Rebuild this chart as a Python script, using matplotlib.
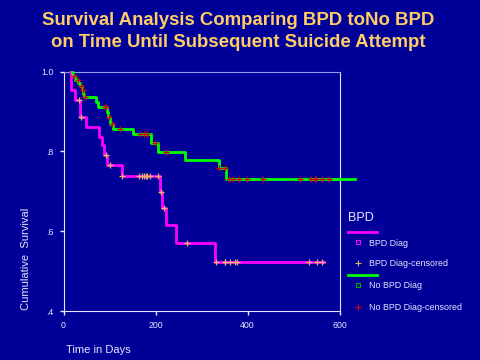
import numpy as np
import matplotlib
matplotlib.use('Agg')
import matplotlib.pyplot as plt
from matplotlib.lines import Line2D

plt.rcParams['font.family'] = ['Liberation Sans', 'DejaVu Sans']

# Kaplan-Meier step data (days, cumulative survival)
bpd_time = [15, 16, 25, 36, 49, 78, 83, 88, 94, 127, 210, 214, 222, 245, 330, 567]
bpd_surv = [1.0, .955, .930, .886, .861, .836, .816, .791, .766, .739, .699, .659, .615, .570, .523, .523]
bpd_cens = [34, 38, 93, 101, 128, 165, 171, 176, 180, 182, 187, 205, 213, 218,
            268, 331, 350, 352, 362, 372, 377, 533, 551, 561]

nobpd_time = [18, 21, 24, 32, 35, 40, 43, 45, 70, 75, 94, 97, 101, 108, 152, 191, 205, 265, 338, 354, 633]
nobpd_surv = [1.0, .988, .980, .972, .964, .954, .945, .937, .925, .912, .899, .887, .870, .857,
              .843, .820, .799, .779, .758, .731, .731]
nobpd_cens = [23, 31, 39, 42, 46, 90, 93, 99, 106, 123, 166, 174, 181, 199, 223, 339, 352,
              359, 368, 381, 399, 433, 515, 537, 546, 549, 562, 577]

x_ticks = [0, 200, 400, 600]
y_ticks = [0.4, 0.6, 0.8, 1.0]
y_labels = ['.4', '.6', '.8', '1.0']

bg = '#000099'
fg = '#E6E6FF'
magenta = '#FF00FF'
green = '#00FF00'


def surv_at(times, surv, t):
    # value of the step function just after time t
    i = np.searchsorted(times, t, side='right') - 1
    return surv[max(i, 0)]


fig = plt.figure(figsize=(4.8, 3.6), dpi=100, facecolor=bg)
ax = fig.add_axes([0.1323, 0.136, 0.575, 0.665], facecolor=bg)

ax.step(bpd_time, bpd_surv, where='post', color=magenta, lw=2.0, clip_on=False, zorder=3)
ax.step(nobpd_time, nobpd_surv, where='post', color=green, lw=2.0, clip_on=False, zorder=3)

ax.plot(bpd_cens, [surv_at(bpd_time, bpd_surv, t) for t in bpd_cens], '+',
        color='#E8B070', ms=4.5, mew=0.9, ls='none', zorder=4)
ax.plot(nobpd_cens, [surv_at(nobpd_time, nobpd_surv, t) for t in nobpd_cens], '+',
        color='#DD0000', ms=4.5, mew=0.9, ls='none', zorder=4)

ax.set_xlim(0, 600)
ax.set_ylim(0.4, 1.0)
ax.set_xticks(x_ticks)
ax.set_yticks(y_ticks)
ax.set_yticklabels(y_labels)
ax.tick_params(colors=fg, labelsize=6.3, length=3, width=1, pad=4)
for s in ['left', 'bottom', 'right']:
    ax.spines[s].set_color(fg)
ax.spines['top'].set_color('#9999EE')

fig.text(0.055, 0.28, 'Cumulative  Survival', rotation=90, color=fg, fontsize=8,
         ha='center', va='center')
fig.text(0.138, 0.028, 'Time in Days', color=fg, fontsize=8, ha='left', va='center')

fig.text(0.496, 0.944, 'Survival Analysis Comparing BPD toNo BPD', color='#FFCC66',
         fontsize=13.4, fontweight='bold', ha='center', va='center')
fig.text(0.496, 0.882, 'on Time Until Subsequent Suicide Attempt', color='#FFCC66',
         fontsize=13.4, fontweight='bold', ha='center', va='center')

# legend, drawn by hand in figure pixels
def fx(px):
    return px / 480.0


def fy(py):
    return 1 - py / 360.0


fig.text(fx(348), fy(218), 'BPD', color=fg, fontsize=9, ha='left', va='center')
fig.add_artist(Line2D([fx(348), fx(377)], [fy(231.5)] * 2, color=magenta, lw=2))
fig.add_artist(Line2D([fx(357.5)], [fy(241.7)], marker='s', ms=3, mfc='none', mec=magenta, mew=0.8))
fig.text(fx(369), fy(243), 'BPD Diag', color=fg, fontsize=6.4, ha='left', va='center')
fig.add_artist(Line2D([fx(357.5)], [fy(262.5)], marker='+', ms=4, color='#E8B070', mew=0.8))
fig.text(fx(369), fy(263.5), 'BPD Diag-censored', color=fg, fontsize=6.4, ha='left', va='center')
fig.add_artist(Line2D([fx(348), fx(377)], [fy(275)] * 2, color=green, lw=2))
fig.add_artist(Line2D([fx(357.5)], [fy(285)], marker='s', ms=3, mfc='none', mec='#00AA00', mew=0.8))
fig.text(fx(369), fy(286), 'No BPD Diag', color=fg, fontsize=6.4, ha='left', va='center')
fig.add_artist(Line2D([fx(357.5)], [fy(307)], marker='+', ms=4, color='#DD0000', mew=0.8))
fig.text(fx(369), fy(308), 'No BPD Diag-censored', color=fg, fontsize=6.4, ha='left', va='center')

fig.savefig('out.png', dpi=100, facecolor=bg)
